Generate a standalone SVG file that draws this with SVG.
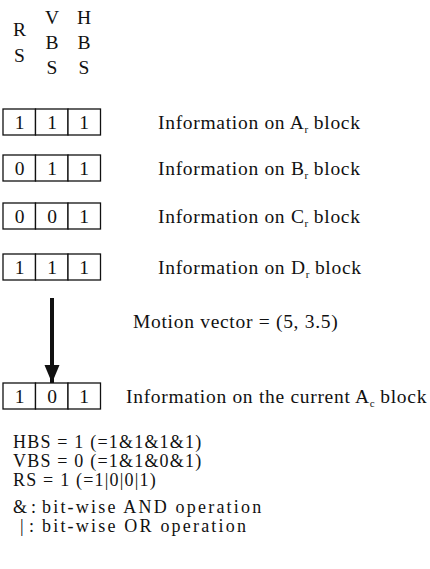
<svg xmlns="http://www.w3.org/2000/svg" width="430" height="569" viewBox="0 0 430 569">
<style>
text{font-family:"Liberation Serif","Times New Roman",serif;fill:#111;font-size:19.5px}
.c{text-anchor:middle}
.t{letter-spacing:0.7px}
.nt{font-size:18px}
.n{letter-spacing:1.2px}
.w{letter-spacing:2.2px}
.box{fill:#fff;stroke:#111;stroke-width:1.3}
.sub{font-size:11px;letter-spacing:0}
</style>
<defs>
<marker id="ah" markerWidth="18" markerHeight="16" refX="18" refY="8" orient="auto" markerUnits="userSpaceOnUse"><path d="M0,0.5 L18,8 L0,15.5 Z" fill="#111"/></marker>
</defs>
<rect width="430" height="569" fill="#fff"/>
<g id="header">
<text class="c" x="19.5" y="36">R</text>
<text class="c" x="19.5" y="62">S</text>
<text class="c" x="52" y="24">V</text>
<text class="c" x="52" y="49">B</text>
<text class="c" x="52" y="74">S</text>
<text class="c" x="84" y="24">H</text>
<text class="c" x="84" y="49">B</text>
<text class="c" x="84" y="74">S</text>
</g>
<g id="blockA">
<rect class="box" x="3" y="109" width="32.5" height="26"/><rect class="box" x="35.5" y="109" width="32.5" height="26"/><rect class="box" x="68" y="109" width="32.5" height="26"/>
<text class="c" x="19.5" y="128.5">1</text><text class="c" x="52" y="128.5">1</text><text class="c" x="84" y="128.5">1</text>
<text class="t" x="158" y="128.5">Information on A<tspan class="sub" dy="4">r</tspan><tspan dy="-4"> block</tspan></text>
</g>
<g id="blockB">
<rect class="box" x="3" y="155" width="32.5" height="26"/><rect class="box" x="35.5" y="155" width="32.5" height="26"/><rect class="box" x="68" y="155" width="32.5" height="26"/>
<text class="c" x="19.5" y="174.5">0</text><text class="c" x="52" y="174.5">1</text><text class="c" x="84" y="174.5">1</text>
<text class="t" x="158" y="174.5">Information on B<tspan class="sub" dy="4">r</tspan><tspan dy="-4"> block</tspan></text>
</g>
<g id="blockC">
<rect class="box" x="3" y="203" width="32.5" height="26"/><rect class="box" x="35.5" y="203" width="32.5" height="26"/><rect class="box" x="68" y="203" width="32.5" height="26"/>
<text class="c" x="19.5" y="222.5">0</text><text class="c" x="52" y="222.5">0</text><text class="c" x="84" y="222.5">1</text>
<text class="t" x="158" y="222.5">Information on C<tspan class="sub" dy="4">r</tspan><tspan dy="-4"> block</tspan></text>
</g>
<g id="blockD">
<rect class="box" x="3" y="254" width="32.5" height="26"/><rect class="box" x="35.5" y="254" width="32.5" height="26"/><rect class="box" x="68" y="254" width="32.5" height="26"/>
<text class="c" x="19.5" y="273.5">1</text><text class="c" x="52" y="273.5">1</text><text class="c" x="84" y="273.5">1</text>
<text class="t" x="158" y="273.5">Information on D<tspan class="sub" dy="4">r</tspan><tspan dy="-4"> block</tspan></text>
</g>
<g id="connectors">
<line x1="52" y1="298" x2="52" y2="383" stroke="#111" stroke-width="4" marker-end="url(#ah)"/>
</g>
<text id="mv" class="t" x="133" y="328">Motion vector = (5, 3.5)</text>
<g id="blockAc">
<rect class="box" x="3" y="383" width="32.5" height="26"/><rect class="box" x="35.5" y="383" width="32.5" height="26"/><rect class="box" x="68" y="383" width="32.5" height="26"/>
<text class="c" x="19.5" y="402.5">1</text><text class="c" x="52" y="402.5">0</text><text class="c" x="84" y="402.5">1</text>
<text class="t" x="126" y="402.5">Information on the current A<tspan class="sub" dy="4">c</tspan><tspan dy="-4"> block</tspan></text>
</g>
<g id="notes" class="nt">
<text class="nt n" x="13" y="448">HBS = 1 (=1&amp;1&amp;1&amp;1)</text>
<text class="nt n" x="13" y="467">VBS = 0 (=1&amp;1&amp;0&amp;1)</text>
<text class="nt n" x="13" y="486">RS = 1 (=1|0|0|1)</text>
<text class="nt" x="13" y="513">&amp;</text><text class="nt" x="31" y="513">:</text>
<text class="nt w" x="42" y="513">bit-wise AND operation</text>
<text class="nt" x="20" y="532">|</text><text class="nt" x="29" y="532">:</text>
<text class="nt w" x="42" y="532">bit-wise OR operation</text>
</g>
</svg>
